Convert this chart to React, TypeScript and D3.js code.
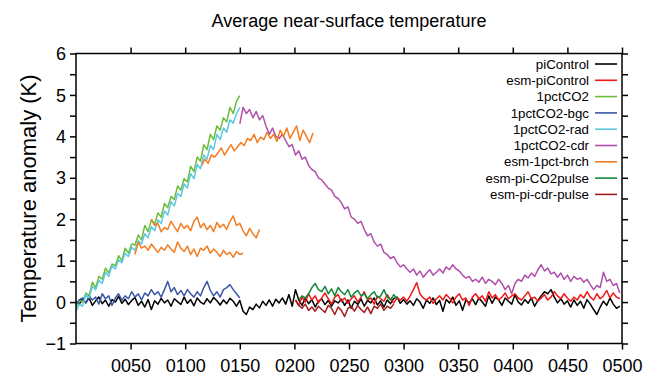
import * as d3 from 'd3';
import { useEffect, useRef } from 'react';

const W = 654, H = 377;
const M = { left: 76, right: 622, top: 53.5, bottom: 343.5 };
const STEP = 3; // years between stored values

// values, one every STEP years
const piControl = [ // from year 0
  0.02,-0.05,0.08,-0.02,0.1,-0.08,0.03,0.12,-0.04,0.05,-0.1,0.06,0.0,0.14,-0.03,0.07,-0.06,
  0.04,0.11,-0.08,0.02,-0.12,0.06,-0.18,0.03,-0.05,0.09,-0.02,0.05,-0.1,0.08,0.01,-0.06,0.12,
  -0.03,0.06,-0.09,0.1,0.0,-0.05,0.08,-0.02,0.11,0.03,-0.07,0.05,-0.04,0.09,0.02,-0.1,0.04,
  -0.22,-0.3,-0.12,-0.18,-0.05,-0.14,0.02,-0.08,0.05,-0.1,0.07,-0.02,0.1,-0.05,0.18,-0.1,0.3,
  0.05,-0.08,0.1,-0.04,0.06,-0.12,0.02,0.08,-0.06,0.04,-0.1,0.03,-0.02,0.07,-0.08,0.05,-0.15,
  0.02,-0.06,0.08,-0.1,0.04,-0.02,0.1,-0.07,0.03,-0.12,0.05,-0.04,0.09,0.12,-0.03,0.06,-0.05,
  0.03,-0.08,0.08,0.0,-0.15,0.05,-0.03,0.1,-0.06,0.04,-0.22,0.06,-0.02,0.12,-0.08,0.03,-0.2,
  0.05,-0.02,0.08,-0.06,0.1,0.0,-0.1,0.15,-0.03,0.12,0.05,-0.08,0.1,0.02,-0.05,0.18,0.0,
  -0.07,0.06,-0.03,0.1,-0.1,0.04,0.15,0.25,0.2,0.3,0.12,-0.02,0.08,-0.05,0.03,-0.12,0.05,
  -0.08,0.02,-0.15,0.06,-0.05,-0.18,-0.3,-0.12,0.02,-0.08,0.1,-0.05,-0.15,-0.1
];

const esmPiControl = [ // from year 201
  0.05,-0.08,0.12,0.0,0.2,0.05,0.15,-0.02,0.1,0.22,0.08,-0.05,0.12,0.18,0.02,0.1,-0.03,
  0.08,0.15,0.0,0.12,0.25,0.05,0.1,-0.05,0.14,0.08,0.02,0.18,0.06,-0.02,0.1,0.05,0.12,
  0.02,0.15,0.3,0.47,0.2,0.1,0.05,0.12,-0.03,0.08,0.15,0.05,0.18,0.1,-0.02,0.12,0.2,
  0.05,0.1,-0.08,0.12,0.2,0.08,0.15,0.02,0.25,0.1,0.18,0.05,0.12,0.22,0.08,0.15,0.2,
  0.1,0.05,0.15,0.25,0.08,0.12,0.02,0.1,0.18,0.05,0.12,0.25,0.15,0.08,0.2,0.1,0.02,
  0.12,0.05,0.18,0.1,0.25,0.12,0.05,0.2,0.08,0.15,0.28,0.1,0.22,0.12,0.08
];

const pct1CO2 = [ // from year 0
  -0.12,0.05,0.0,0.22,0.15,0.48,0.35,0.62,0.55,0.82,0.7,0.92,0.88,1.12,1.0,1.3,1.18,1.4,1.38,1.62,
  1.5,1.85,1.7,1.98,1.88,2.15,2.05,2.38,2.28,2.55,2.48,2.8,2.7,2.98,2.9,3.28,3.15,3.5,3.4,3.8,
  3.68,4.05,3.92,4.25,4.15,4.45,4.35,4.7,4.55,4.85,4.98
];

const pct1CO2bgc = [ // from year 0
  -0.05,0.05,0.1,-0.02,0.15,0.05,0.12,-0.05,0.2,0.08,0.15,-0.08,0.1,0.2,0.05,0.15,0.08,0.25,0.12,0.2,
  0.05,0.22,0.15,0.3,0.18,0.25,0.12,0.3,0.5,0.25,0.35,0.18,0.28,0.15,0.3,0.2,0.12,0.25,0.15,0.35,
  0.5,0.28,0.15,0.25,0.12,0.3,0.35,0.42,0.3,0.2,0.1
];

const pct1CO2rad = [ // from year 0
  -0.22,-0.05,-0.1,0.18,0.1,0.38,0.3,0.52,0.45,0.72,0.62,0.88,0.8,1.02,0.95,1.18,1.1,1.32,1.25,1.48,
  1.4,1.65,1.55,1.82,1.72,1.98,1.9,2.2,2.1,2.42,2.32,2.62,2.55,2.85,2.75,3.1,2.98,3.32,3.22,3.55,
  3.45,3.78,3.68,4.05,3.92,4.2,4.1,4.4,4.32,4.55,4.7
];

const pct1CO2cdr = [ // from year 150
  4.3,4.7,4.55,4.65,4.45,4.6,4.4,4.5,4.25,4.05,4.2,4.0,3.95,4.05,3.9,3.75,3.8,3.55,3.65,3.45,
  3.5,3.3,3.2,3.15,3.0,2.95,2.85,2.75,2.7,2.55,2.5,2.4,2.25,2.3,2.05,2.0,1.9,1.95,1.75,1.6,
  1.65,1.45,1.35,1.4,1.2,1.15,1.05,1.1,0.95,0.85,0.9,0.8,0.72,0.8,0.65,0.75,0.6,0.7,0.78,0.65,
  0.72,0.8,0.7,0.85,0.78,0.9,0.8,0.75,0.65,0.58,0.62,0.5,0.55,0.48,0.6,0.45,0.55,0.5,0.42,0.55,
  0.45,0.3,0.4,0.2,0.45,0.55,0.5,0.65,0.58,0.7,0.62,0.78,0.9,0.75,0.82,0.68,0.72,0.6,0.7,0.55,
  0.65,0.5,0.62,0.55,0.58,0.48,0.55,0.42,0.3,0.4,0.35,0.72,0.5,0.55,0.4,0.45,0.22
];

const brchHigh = [ // from year 115
  3.3,3.45,3.35,3.55,3.5,3.6,3.72,3.55,3.68,3.8,3.65,3.75,3.85,3.78,3.95,3.9,4.05,3.85,3.98,3.92,
  4.1,3.95,4.05,3.88,4.15,4.0,4.2,3.95,4.1,4.25,3.9,4.15,4.0,3.85,4.08
];
const brchMid = [ // from year 69
  2.0,1.85,1.9,1.7,1.8,1.75,1.95,1.82,1.7,1.9,1.78,1.85,1.72,1.95,2.05,1.8,1.9,1.75,1.85,1.7,
  1.92,1.8,1.88,1.75,1.95,2.08,1.85,1.9,1.72,1.6,1.78,1.65,1.55,1.75
];
const brchLow = [ // from year 54
  1.15,1.45,1.3,1.35,1.25,1.4,1.3,1.2,1.32,1.25,1.38,1.28,1.2,1.45,1.3,1.22,1.35,1.15,1.28,1.1,
  1.3,1.25,1.35,1.18,1.28,1.2,1.1,1.25,1.15,1.2,1.08,1.22,1.15,1.18
];

const co2Pulse = [ // from year 204
  0.05,0.15,0.1,0.2,0.35,0.45,0.3,0.25,0.38,0.2,0.32,0.15,0.35,0.25,0.18,0.3,0.12,0.22,0.28,0.15,
  0.2,0.08,0.18,0.25,0.1,0.15,0.3,0.12,0.05,0.18,0.08
];

const cdrPulse = [ // from year 201
  0.05,-0.08,-0.15,-0.05,-0.2,-0.12,-0.22,-0.1,-0.18,-0.25,-0.08,-0.15,-0.3,-0.12,-0.2,-0.35,-0.15,-0.1,-0.22,-0.08,
  -0.18,-0.25,-0.12,-0.28,-0.1,-0.15,-0.05,-0.2,-0.1,-0.15,-0.05
];

const xTicks = [50, 100, 150, 200, 250, 300, 350, 400, 450, 500];
const yTicks = [-1, -0.5, 0, 0.5, 1, 1.5, 2, 2.5, 3, 3.5, 4, 4.5, 5, 5.5, 6];

const series = [
  { name: 'piControl', color: '#000000', runs: [{ start: 0, values: piControl }] },
  { name: 'esm-piControl', color: '#f01818', runs: [{ start: 201, values: esmPiControl }] },
  { name: '1pctCO2', color: '#6cbd3c', runs: [{ start: 0, values: pct1CO2 }] },
  { name: '1pctCO2-bgc', color: '#3a57a8', runs: [{ start: 0, values: pct1CO2bgc }] },
  { name: '1pctCO2-rad', color: '#5cc8e2', runs: [{ start: 0, values: pct1CO2rad }] },
  { name: '1pctCO2-cdr', color: '#b050aa', runs: [{ start: 150, values: pct1CO2cdr }] },
  { name: 'esm-1pct-brch', color: '#f47c20', runs: [
    { start: 115, values: brchHigh }, { start: 69, values: brchMid }, { start: 54, values: brchLow }] },
  { name: 'esm-pi-CO2pulse', color: '#11893a', runs: [{ start: 204, values: co2Pulse }] },
  { name: 'esm-pi-cdr-pulse', color: '#a11c1c', runs: [{ start: 201, values: cdrPulse }] },
];

const FONT = 'Liberation Sans, Arial, Helvetica, sans-serif';

function draw(el: SVGSVGElement) {
  const svg = d3.select(el);
  svg.selectAll('*').remove();

  const x = d3.scaleLinear().domain([0, 500]).range([M.left, M.right]);
  const y = d3.scaleLinear().domain([-1, 6]).range([M.bottom, M.top]);

  svg.append('defs').append('clipPath').attr('id', 'plot')
    .append('rect')
    .attr('x', M.left).attr('y', M.top)
    .attr('width', M.right - M.left).attr('height', M.bottom - M.top);

  // lines
  const g = svg.append('g').attr('clip-path', 'url(#plot)');
  series.forEach(s => {
    s.runs.forEach(r => {
      const line = d3.line<number>()
        .x((d, i) => x(r.start + i * STEP))
        .y(d => y(d));
      g.append('path')
        .attr('d', line(r.values))
        .attr('fill', 'none')
        .attr('stroke', s.color)
        .attr('stroke-width', 1.5)
        .attr('stroke-linejoin', 'round');
    });
  });

  // axes, ticks outside on all four sides
  const fmtX = (d: any) => d3.format('04d')(d);
  const fmtY = (d: any) => Number.isInteger(d) ? (d < 0 ? '\u2212' + Math.abs(d) : String(d)) : '';

  const bottom = svg.append('g').attr('transform', `translate(0,${M.bottom})`)
    .call(d3.axisBottom(x).tickValues(xTicks).tickFormat(fmtX).tickSize(6).tickPadding(10).tickSizeOuter(0));
  const top = svg.append('g').attr('transform', `translate(0,${M.top})`)
    .call(d3.axisTop(x).tickValues(xTicks).tickFormat(() => '').tickSize(6).tickSizeOuter(0));
  const left = svg.append('g').attr('transform', `translate(${M.left},0)`)
    .call(d3.axisLeft(y).tickValues(yTicks).tickFormat(fmtY).tickSize(6).tickPadding(4).tickSizeOuter(0));
  const right = svg.append('g').attr('transform', `translate(${M.right},0)`)
    .call(d3.axisRight(y).tickValues(yTicks).tickFormat(() => '').tickSize(6).tickSizeOuter(0));

  [bottom, top, left, right].forEach(a => {
    a.select('.domain').remove();
    a.selectAll('.tick line').attr('stroke', '#000').attr('stroke-width', 1.5);
    a.selectAll('text').attr('font-family', FONT).attr('font-size', 18).attr('fill', '#000');
  });
  left.selectAll('text').attr('dy', '0.34em');

  svg.append('rect')
    .attr('x', M.left).attr('y', M.top)
    .attr('width', M.right - M.left).attr('height', M.bottom - M.top)
    .attr('fill', 'none').attr('stroke', '#000').attr('stroke-width', 1.5);

  // titles
  svg.append('text')
    .attr('x', (M.left + M.right) / 2).attr('y', 27)
    .attr('text-anchor', 'middle')
    .attr('font-family', FONT).attr('font-size', 18)
    .text('Average near-surface temperature');

  svg.append('text')
    .attr('transform', `translate(36,${(M.top + M.bottom) / 2}) rotate(-90)`)
    .attr('text-anchor', 'middle')
    .attr('font-family', FONT).attr('font-size', 22)
    .text('Temperature anomaly (K)');

  // legend
  const leg = svg.append('g');
  series.forEach((s, i) => {
    const ly = 64 + i * 16.3;
    leg.append('text')
      .attr('x', 589).attr('y', ly + 4.6)
      .attr('text-anchor', 'end')
      .attr('font-family', FONT).attr('font-size', 13.3)
      .text(s.name);
    leg.append('line')
      .attr('x1', 595).attr('x2', 617).attr('y1', ly).attr('y2', ly)
      .attr('stroke', s.color).attr('stroke-width', 1.6);
  });
}

export default function App() {
  const ref = useRef<SVGSVGElement>(null);
  useEffect(() => {
    if (ref.current) draw(ref.current);
  }, []);
  return (
    <svg ref={ref} width={W} height={H}
      style={{ position: 'absolute', left: 0, top: 0, background: '#fff', display: 'block' }} />
  );
}
